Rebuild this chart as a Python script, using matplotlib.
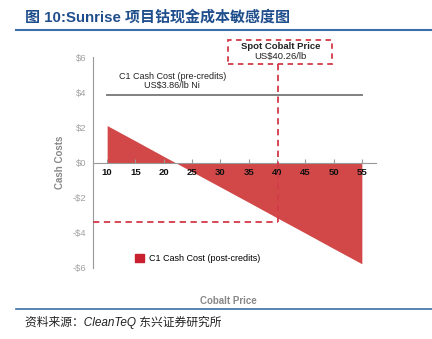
import matplotlib.pyplot as plt
from matplotlib.patches import Patch, Rectangle
from matplotlib.lines import Line2D

plt.rcParams['font.family'] = ['Liberation Sans', 'Noto Sans CJK SC', 'DejaVu Sans']

# cobalt price (US$/lb) vs C1 cash cost post-credits (US$/lb Ni)
cobalt_price = [10, 15, 20, 25, 30, 35, 40, 45, 50, 55]
cash_cost_post = [2.10, 1.23, 0.35, -0.52, -1.39, -2.26, -3.14, -4.01, -4.89, -5.76]
pre_credit_cost = 3.86
spot_price = 40.26
spot_cost = -3.37
y_ticks = [6, 4, 2, 0, -2, -4, -6]
y_labels = ['$6', '$4', '$2', '$0', '-$2', '-$4', '-$6']

title = '图 10:Sunrise 项目钴现金成本敏感度图'
source = '资料来源：CleanTeQ 东兴证券研究所'

red = '#D24848'
dash_red = '#D23A48'
grey = '#999999'
blue = '#1F4E8C'

fig = plt.figure(figsize=(4.32, 3.39), dpi=100)
ax = fig.add_axes([93 / 432, 1 - 268 / 339, (376 - 93) / 432, (268 - 57) / 339])

# spine position first, it resets the tick setup
for s in ['top', 'right']:
    ax.spines[s].set_visible(False)
ax.spines['bottom'].set_position(('data', 0))
ax.spines['bottom'].set_color(grey)
ax.spines['left'].set_color(grey)
ax.patch.set_alpha(0)

ax.fill_between(cobalt_price, cash_cost_post, 0, color=red, lw=0, zorder=1)
ax.plot([cobalt_price[0], cobalt_price[-1]], [pre_credit_cost] * 2, color='#808080', lw=1.4)
ax.text(21.5, 4.9, 'C1 Cash Cost (pre-credits)', ha='center', va='center', fontsize=6.5, color='#222222')
ax.text(21.5, 4.38, 'US$3.86/lb Ni', ha='center', va='center', fontsize=6.5, color='#222222')

# spot price markers
ax.plot([spot_price, spot_price], [5.63, spot_cost], color=dash_red, lw=1.3, ls=(0, (3.5, 2.5)),
        clip_on=False, zorder=3)
ax.plot([7.5, spot_price], [spot_cost, spot_cost], color=dash_red, lw=1.3, ls=(0, (3.5, 2.5)), zorder=3)
ax.add_patch(Rectangle((31.4, 5.63), 18.4, 1.31, fill=False, ec=dash_red, lw=1.3,
                       ls=(0, (3, 2.5)), clip_on=False))
ax.text(40.6, 6.6, 'Spot Cobalt Price', ha='center', va='center', fontsize=6.8, fontweight='bold',
        color='#222222')
ax.text(40.6, 6.0, 'US$40.26/lb', ha='center', va='center', fontsize=6.8, color='#222222')

ax.set_xlim(7.5, 57.5)
ax.set_ylim(-6, 6)
ax.set_xticks(cobalt_price)
ax.set_xticklabels([str(v) for v in cobalt_price], fontsize=6.8, fontweight='bold', color='#111111')
ax.set_yticks(y_ticks)
ax.set_yticklabels(y_labels, fontsize=6.8, color='#A0A0A0')
ax.tick_params(axis='y', length=0, pad=5)
ax.tick_params(axis='x', direction='in', length=3, color=grey, pad=4)

ax.legend(handles=[Patch(color='#C8202F', label='C1 Cash Cost (post-credits)')],
          loc='center left', bbox_to_anchor=(0.12, 0.045), frameon=False, fontsize=6.5,
          handlelength=1.0, handleheight=0.9, handletextpad=0.5)

fig.text(60 / 432, 1 - 162 / 339, 'Cash Costs', rotation=90, ha='center', va='center',
         fontsize=7, fontweight='bold', color='#888888')
fig.text(228 / 432, 1 - 301 / 339, 'Cobalt Price', ha='center', va='center',
         fontsize=7, fontweight='bold', color='#888888')

fig.text(25 / 432, 1 - 17 / 339, title, ha='left', va='center', fontsize=10.8, fontweight='bold',
         color=blue, family=['Liberation Sans', 'Noto Sans CJK SC'])
fig.add_artist(Line2D([16 / 432, 1], [1 - 30 / 339] * 2, color='#3B6FA8', lw=1.5))
fig.add_artist(Line2D([16 / 432, 1], [1 - 308.5 / 339] * 2, color='#3B6FA8', lw=1.2))
fig.text(25 / 432, 1 - 322 / 339, source, ha='left', va='center', fontsize=8.5, style='italic',
         color='#222222', family=['Liberation Sans', 'Noto Sans CJK SC'])

fig.savefig('out.png', dpi=100)
